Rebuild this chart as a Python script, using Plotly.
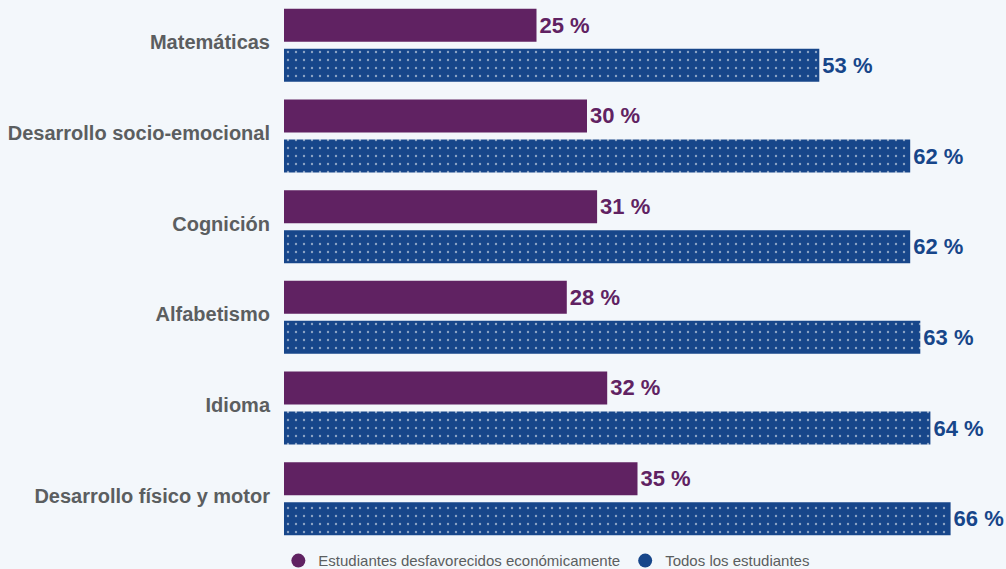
import plotly.graph_objects as go

categories = ["Matemáticas", "Desarrollo socio-emocional", "Cognición", "Alfabetismo",
              "Idioma", "Desarrollo físico y motor"]
desfavorecidos = [25, 30, 31, 28, 32, 35]
todos = [53, 62, 62, 63, 64, 66]
series_names = ["Estudiantes desfavorecidos económicamente", "Todos los estudiantes"]

PURPLE = "#602262"
BLUE = "#17468a"
BG = "#f3f7fb"
GRAY = "#5b5e60"
FONT = "Liberation Sans, Arial, Helvetica, sans-serif"

fig = go.Figure()
fig.add_trace(go.Bar(
    y=categories, x=desfavorecidos, orientation="h", name=series_names[0],
    marker=dict(color=PURPLE, line=dict(width=0)),
    texttemplate="<b>%{x} %</b>", textposition="outside", cliponaxis=False,
    constraintext="none",
    textfont=dict(color=PURPLE, size=22, family=FONT), showlegend=False,
    hoverinfo="skip",
))
fig.add_trace(go.Bar(
    y=categories, x=todos, orientation="h", name=series_names[1],
    marker=dict(color=BLUE, line=dict(width=0),
                pattern=dict(shape=".", fillmode="overlay", fgcolor="#ffffff",
                             size=8, solidity=0.07)),
    texttemplate="<b>%{x} %</b>", textposition="outside", cliponaxis=False,
    constraintext="none",
    textfont=dict(color=BLUE, size=22, family=FONT), showlegend=False,
    hoverinfo="skip",
))
# legend entries with circular markers
for name, col in zip(series_names, [PURPLE, BLUE]):
    fig.add_trace(go.Scatter(x=[None], y=[None], mode="markers", name=name,
                             marker=dict(color=col, size=14, symbol="circle")))

fig.update_layout(
    width=1006, height=569,
    paper_bgcolor=BG, plot_bgcolor=BG,
    margin=dict(l=284, r=15, t=0, b=25, autoexpand=False),
    barmode="group", bargap=0.117, bargroupgap=0.175,
    font=dict(family=FONT, color=GRAY),
    xaxis=dict(range=[0, 70], visible=False, fixedrange=True),
    yaxis=dict(autorange="reversed", showgrid=False, zeroline=False, showline=False,
               ticks="outside", ticklen=9, tickcolor="rgba(0,0,0,0)",
               tickfont=dict(size=20, color=GRAY, family=FONT),
               tickvals=categories, fixedrange=True, ticklabelshift=3,
               ticktext=[f"<b>{c}</b>" for c in categories]),
    legend=dict(orientation="h", x=-0.008, xanchor="left", y=-0.031, yanchor="middle",
                font=dict(size=15, color=GRAY, family=FONT), itemwidth=30,
                bgcolor="rgba(0,0,0,0)"),
    showlegend=True,
)

fig.write_html("out.html", config={"displayModeBar": False},
               post_script="document.body.style.margin='0';")
